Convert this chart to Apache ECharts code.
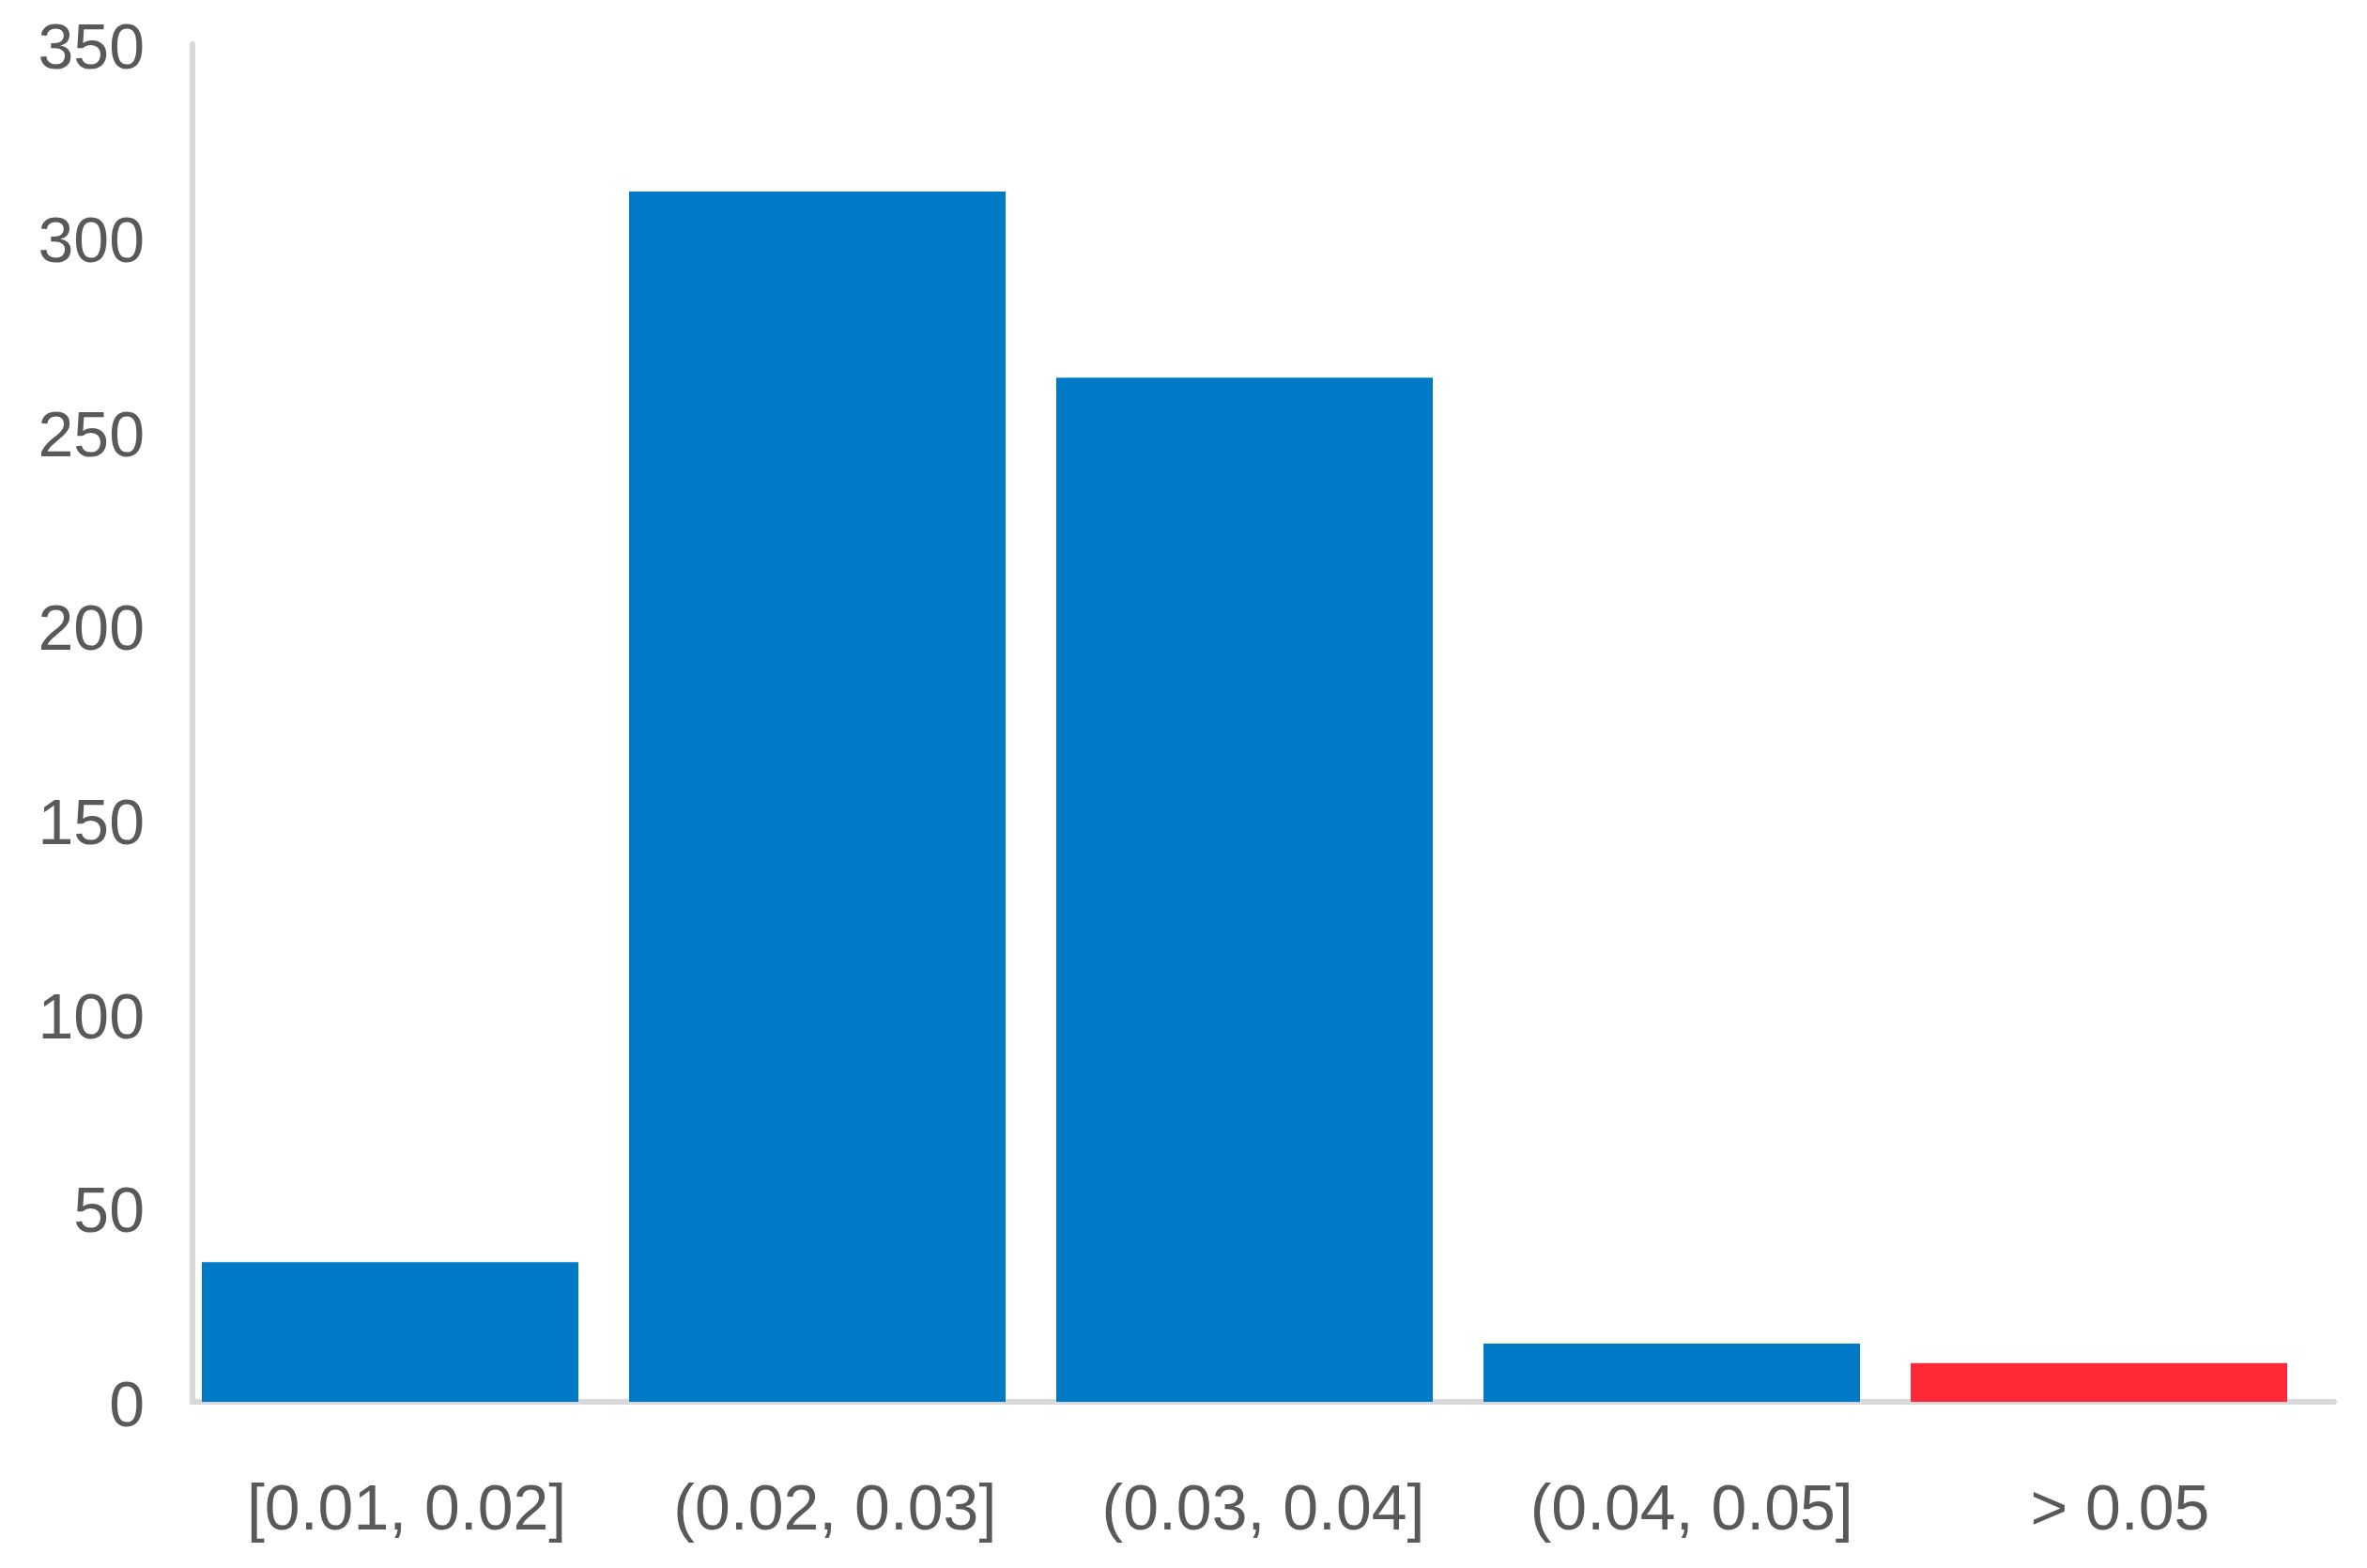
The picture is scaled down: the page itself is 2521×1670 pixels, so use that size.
<!DOCTYPE html>
<html>
<head>
<meta charset="utf-8">
<style>
  html, body { margin: 0; padding: 0; background: #fff; }
  #chart { width: 2521px; height: 1670px; }
</style>
<script src="https://cdn.jsdelivr.net/npm/echarts@6/dist/echarts.min.js"></script>
</head>
<body>
<div id="chart"></div>
<script>
// bins and counts
const categories = ['[0.01, 0.02]', '(0.02, 0.03]', '(0.03, 0.04]', '(0.04, 0.05]', '> 0.05'];
const counts = [36, 312, 264, 15, 10];
const barColors = ['#0079c7', '#0079c7', '#0079c7', '#0079c7', '#ff2837'];
const yTicks = { min: 0, max: 350, interval: 50 };

var myChart = echarts.init(document.getElementById('chart'));

var labelStyle = {
    color: '#595959',
    fontFamily: '"Liberation Sans", Arial, sans-serif',
    fontSize: 68
};
var axisLineStyle = { show: true, lineStyle: { color: '#d9d9d9', width: 6 } };

// grid 0 carries the visible axes, grid 1 the bars (they sit a bit left of the label centres in the original)
myChart.setOption({
    animation: false,
    backgroundColor: '#fff',
    grid: [
        { left: 205, right: 35, top: 47, bottom: 177 },
        { left: 188, right: 58, top: 47, bottom: 177 }
    ],
    xAxis: [{
        type: 'category',
        gridIndex: 0,
        data: categories,
        offset: 3,
        axisLine: axisLineStyle,
        axisTick: { show: false },
        axisLabel: Object.assign({ margin: 80, interval: 0 }, labelStyle)
    }, {
        type: 'category',
        gridIndex: 1,
        data: categories,
        show: false
    }],
    yAxis: [{
        type: 'value',
        gridIndex: 0,
        min: yTicks.min,
        max: yTicks.max,
        interval: yTicks.interval,
        splitLine: { show: false },
        axisTick: { show: false },
        axisLine: axisLineStyle,
        // labels sit a few px below their tick in the original
        axisLabel: Object.assign({ margin: 51, verticalAlign: 'top', lineHeight: 14 }, labelStyle)
    }, {
        type: 'value',
        gridIndex: 1,
        min: yTicks.min,
        max: yTicks.max,
        interval: yTicks.interval,
        show: false
    }],
    series: [{
        type: 'bar',
        xAxisIndex: 1,
        yAxisIndex: 1,
        barWidth: 401,
        data: counts.map((v, i) => ({ value: v, itemStyle: { color: barColors[i] } }))
    }]
});
</script>
</body>
</html>
